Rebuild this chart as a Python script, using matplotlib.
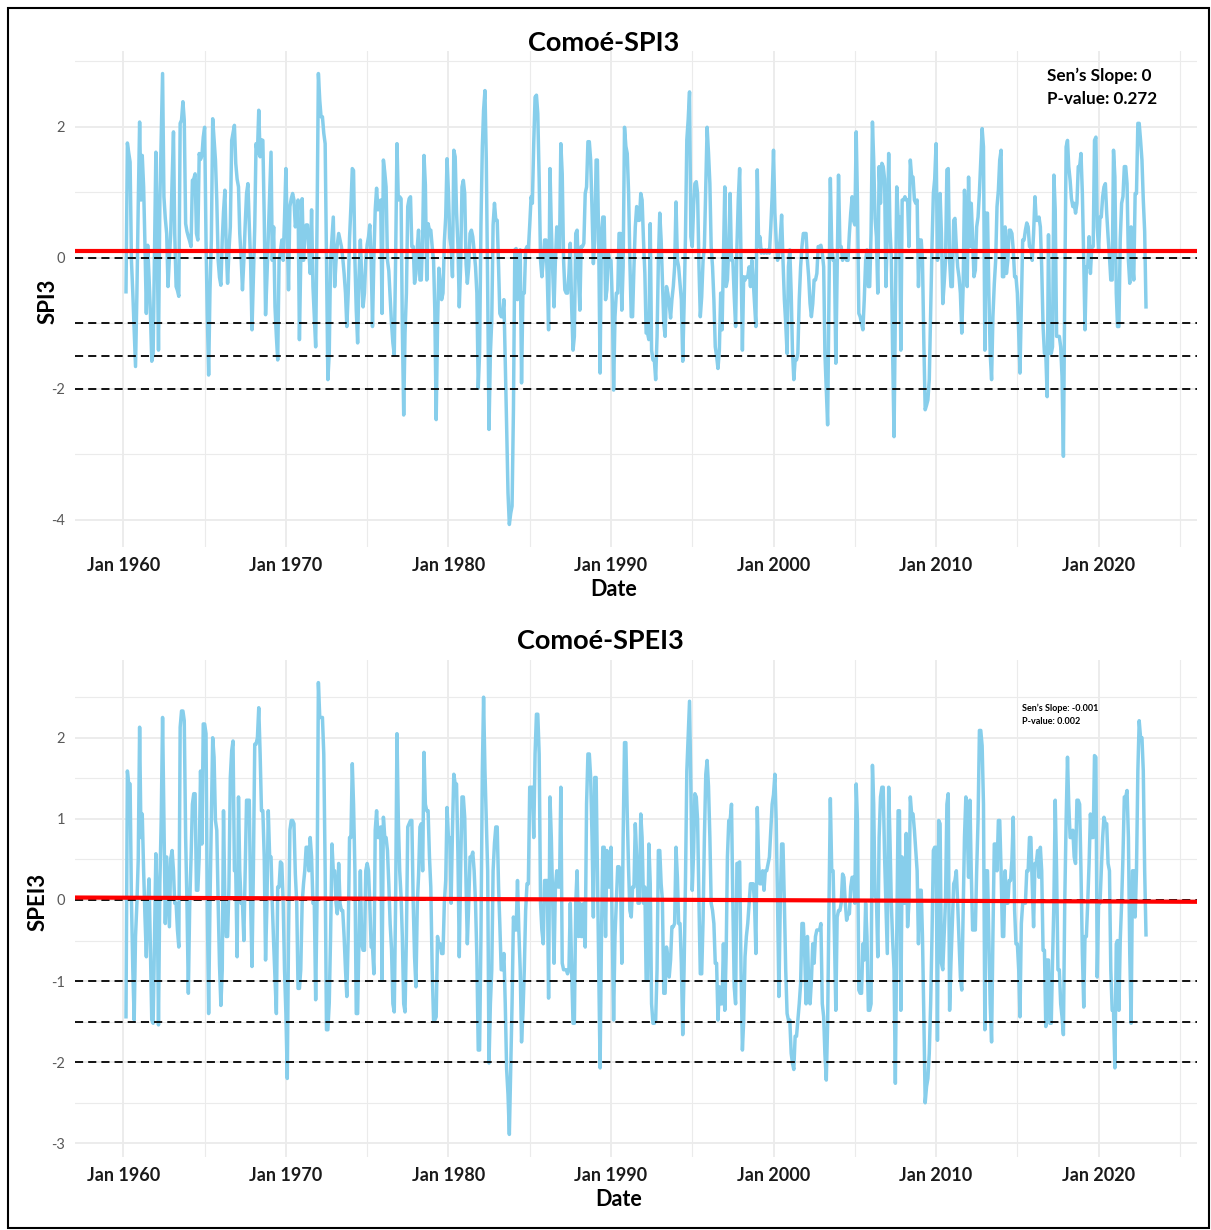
import numpy as np
import pandas as pd
import matplotlib
matplotlib.use("Agg")
import matplotlib.pyplot as plt
import matplotlib.dates as mdates
from matplotlib.ticker import MultipleLocator
from matplotlib.patches import Rectangle

nan = np.nan

# Monthly SPI3 for the Comoé basin (Jan..Dec each year)
spi3_1960s = [
    nan, nan, -0.52, 1.75, 1.60, 1.46, -0.04, -0.54, -1.10, -1.66, -0.54, 0.80,
    2.07, 0.88, 1.56, 1.08, 0.20, -0.85, 0.19, -0.30, -0.85, -1.58, -1.46, 0.10,
    1.61, 0.17, -1.41, 0.88, 1.80, 2.81, 0.93, 0.60, 0.37, -0.44, 0.00, 0.37,
    1.18, 1.92, 0.37, -0.44, -0.50, -0.59, 2.05, 2.10, 2.38, 2.10, 0.52, 0.40,
    0.32, 0.25, 0.17, 1.18, 1.20, 1.28, 0.37, 0.27, 1.59, 1.50, 1.56, 1.84,
    1.99, 0.27, -0.85, -1.79, -0.50, 0.27, 2.12, 1.80, 1.49, 0.88, -0.04, -0.30,
    -0.42, 0.27, 0.70, 1.03, 0.17, -0.39, 0.10, 0.47, 1.79, 1.90, 2.02, 1.44,
    1.20, 1.08, 0.37, 0.00, -0.49, -0.04, 0.50, 0.98, 1.13, 0.50, -0.09, -1.10,
    -0.30, 0.47, 1.74, 1.59, 2.25, 1.54, 1.80, 1.79, 0.62, -0.87, -0.30, 0.32,
    1.00, 1.61, -0.04, 0.47, -0.75, -1.20, -1.56, -0.04, 0.10, 0.27, -0.04, 0.60,
]
spi3_1970s = [
    1.36, 0.37, -0.49, 0.78, 0.90, 0.98, 0.88, 0.47, 0.60, 0.88, -1.25, -0.04,
    0.90, -0.04, 0.30, 0.50, 0.50, 0.10, -0.24, 0.73, -0.44, -0.90, -1.36, 0.47,
    2.81, 2.40, 2.15, 2.15, 1.90, 1.74, -0.04, -1.86, -1.46, -0.04, 0.30, 0.62,
    -0.44, -0.04, 0.20, 0.37, 0.27, 0.17, 0.00, -0.24, -0.54, -1.05, -0.54, 0.30,
    0.78, 1.36, 1.33, -0.04, -0.80, -1.30, -0.29, 0.27, -0.30, -0.75, -0.54, -0.04,
    0.20, 0.32, 0.50, -0.04, -1.05, 0.00, 0.73, 1.06, 0.73, 0.80, 0.88, -0.85,
    1.49, 1.30, 1.08, -0.04, -0.20, -0.60, -1.00, -1.30, -1.48, -0.04, 1.74, 0.88,
    0.93, 0.90, -1.05, -2.40, -1.15, -0.54, 0.78, 0.90, 0.93, 0.17, 0.17, -0.39,
    -0.24, 0.17, 0.42, -0.34, -0.34, 0.32, 1.56, 1.11, -0.34, 0.52, 0.42, 0.42,
    0.17, -0.04, -0.80, -2.47, -1.05, -0.16, -0.40, -0.64, -0.54, 0.24, 0.62, 1.51,
]
spi3_1980s = [
    1.00, 0.30, 0.17, -0.29, 1.64, 1.54, 0.70, 0.20, -0.75, -0.14, 1.08, 1.18,
    0.98, -0.10, -0.39, -0.14, 0.37, 0.42, 0.32, 0.10, -0.14, -0.54, -1.99, -1.46,
    0.50, 1.69, 2.25, 2.55, 1.49, -0.49, -2.62, -1.46, -0.95, 0.50, 0.83, 0.57,
    0.57, -0.14, -0.85, -0.90, -0.90, -0.64, -1.56, -2.57, -3.59, -4.07, -3.90, -3.79,
    -2.32, 0.12, 0.14, -0.64, -0.54, 0.12, -1.91, -0.54, -0.54, 0.12, 0.17, 0.12,
    0.50, 0.93, 0.83, 1.74, 2.45, 2.48, 2.20, 1.20, -0.04, -0.29, -0.04, 0.27,
    0.27, -0.34, -1.10, 1.36, 0.47, -0.20, -0.75, -0.04, 0.47, 0.12, 0.12, 1.74,
    1.28, -0.04, -0.49, -0.54, -0.54, -0.24, 0.22, -0.75, -1.41, -1.20, 0.37, 0.42,
    -0.24, -0.80, 0.17, 0.17, 0.22, 0.98, 1.08, 1.77, 1.77, 1.49, 0.73, -0.09,
    0.27, 1.49, 1.49, 0.17, -1.76, 0.37, 0.62, 0.62, -0.64, -0.49, 0.07, -0.04,
]
spi3_1990s = [
    -0.04, -0.70, -2.02, -0.90, -0.54, -0.54, 0.37, 0.37, -0.80, -0.14, 1.99, 1.70,
    1.59, 0.98, -0.04, -0.90, -0.90, -0.14, 0.47, 0.78, 0.57, 0.57, 0.98, 0.88,
    0.27, -0.24, -1.15, -1.15, -1.25, 0.52, -1.41, -1.56, -1.56, -1.86, -1.20, -0.04,
    0.68, 0.27, -0.34, -1.00, -1.20, -0.44, -0.54, -0.70, -0.92, -0.64, -0.44, -0.14,
    0.85, -0.04, -0.14, -0.40, -0.64, -1.58, -0.75, 0.30, 1.80, 2.10, 2.53, 0.32,
    0.17, 0.80, 1.13, 1.16, 0.98, -0.14, -0.90, -0.60, -0.04, 0.17, 1.13, 1.99,
    1.60, 1.13, 0.17, -0.14, -0.64, -1.36, -1.50, -1.69, -1.41, -0.54, -1.10, 0.00,
    1.08, -0.44, -0.34, 0.17, 0.98, -0.04, -0.04, -0.59, -1.05, 0.17, 0.90, 1.36,
    -0.04, -1.41, -0.29, -0.34, -0.29, -0.29, -0.14, -0.44, -0.04, -0.34, -0.70, -1.05,
    1.34, 0.17, 0.32, 0.07, 0.12, 0.07, 0.12, 0.07, 0.12, 0.07, 0.47, 0.93,
]
spi3_2000s = [
    1.64, 0.68, 0.27, -0.04, 0.07, 0.30, 0.65, -0.04, -0.64, -1.00, -1.46, -0.14,
    0.12, -0.54, -1.40, -1.86, -1.56, -1.56, -1.46, -0.64, -0.14, 0.17, 0.37, 0.37,
    0.37, -0.04, -0.29, -0.70, -0.90, -0.70, -0.34, -0.34, -0.24, 0.17, 0.17, 0.19,
    0.07, -0.14, -1.46, -2.00, -2.55, -0.54, 1.21, 0.17, -0.04, -0.04, -1.61, -0.14,
    1.26, 0.17, 0.17, -0.04, 0.07, 0.07, -0.04, -0.04, 0.37, 0.68, 0.93, 0.57,
    0.50, 1.92, 0.88, -0.85, -0.90, -1.00, -1.10, -0.64, -0.04, 0.12, -0.44, -0.44,
    0.37, 2.07, 1.49, 0.60, 0.32, -0.54, 1.39, 0.83, 1.44, 1.39, 1.20, -0.44,
    0.37, 1.59, 0.47, 0.00, -1.46, -2.73, -0.85, 1.08, 0.62, 0.62, -1.41, 0.88,
    0.88, 0.93, 0.88, 0.88, 0.17, 1.49, 1.23, 1.23, 0.88, 0.83, 0.88, -0.44,
    0.27, 0.27, -0.04, -1.30, -2.32, -2.25, -2.17, -1.86, -0.85, 0.17, 0.98, 1.20,
]
spi3_2010s = [
    1.74, -0.04, 0.30, 0.98, 0.37, -0.70, -0.40, -0.04, 1.34, 1.36, -0.04, -0.44,
    -0.44, 0.57, 0.60, 0.17, -0.14, -0.30, -0.54, -1.15, -0.44, 1.03, 0.50, -0.44,
    1.23, 0.17, 0.83, 0.30, -0.29, -0.19, 0.47, 0.62, 1.00, 1.49, 1.97, 1.69,
    -1.41, 0.68, 0.68, -0.54, -1.46, -1.86, -0.90, -0.40, -0.04, 0.78, 1.03, 1.49,
    1.64, -0.29, -0.29, 0.47, -0.24, -0.04, 0.42, 0.42, 0.37, 0.12, -0.29, -0.29,
    -0.54, -1.15, -1.76, -0.75, 0.27, 0.27, 0.42, 0.53, 0.47, 0.17, 0.17, -0.04,
    0.37, 0.93, 0.57, 0.57, 0.62, 0.47, -0.14, -1.05, -1.46, -1.46, -2.12, 0.35,
    -1.46, -1.46, -1.36, 1.26, 0.73, -1.20, -1.20, -1.20, -1.36, -1.81, -3.03, -0.54,
    1.69, 1.79, 1.39, 1.18, 0.90, 0.78, 0.83, 0.68, 0.83, 1.39, 1.39, 1.59,
    0.98, -0.04, -1.10, -0.14, -0.14, 0.32, -0.24, 0.17, 0.17, 1.79, 1.84, 0.47,
]
spi3_2020s = [
    0.12, 0.62, 0.62, 0.93, 1.08, 1.13, 0.68, 0.32, 0.02, -0.34, -0.34, 1.64,
    1.23, -0.54, -1.05, -1.05, 0.27, 0.83, 0.93, 1.39, 1.39, 1.13, -0.04, -0.39,
    0.47, -0.09, -0.34, 0.98, 0.98, 2.05, 2.05, 1.79, 1.49, 0.88, 0.40, -0.75,
]

# Monthly SPEI3 for the Comoé basin (Jan..Dec each year)
spei3_1960s = [
    nan, nan, -1.44, 1.59, 1.43, 1.43, 0.00, -0.86, -1.48, -0.45, -0.04, 0.50,
    2.13, 0.77, 1.06, 0.36, -0.20, -0.70, -0.04, 0.26, -0.66, -1.48, -1.52, -0.50,
    0.57, -0.04, -1.54, 0.20, 0.98, 2.25, 0.98, -0.29, 0.53, 0.10, -0.33, 0.51,
    0.61, 0.36, -0.04, -0.04, -0.37, -0.58, 2.13, 2.33, 2.33, 2.21, 0.77, -0.04,
    -1.15, -0.04, 0.50, 1.18, 1.31, 1.31, 0.12, 0.12, 0.53, 1.59, 0.69, 2.17,
    2.17, 2.05, -0.04, -1.40, -0.04, 1.00, 2.00, 1.76, 0.98, 0.86, -0.04, -0.80,
    -1.30, -0.86, 1.10, -0.04, -0.45, -0.45, 0.16, 1.51, 1.84, 1.96, 0.36, 0.36,
    -0.70, 1.27, 0.36, -0.04, -0.04, -0.50, 0.36, 1.23, 1.23, 1.23, -0.04, -0.82,
    0.36, 1.92, 1.92, 2.00, 2.37, 1.80, 1.10, 1.10, 0.53, -0.74, -0.04, 1.10,
    0.53, 0.53, -0.04, -0.54, -0.95, -1.40, 0.16, 0.16, 0.47, 0.45, -0.04, -0.86,
]
spei3_1970s = [
    -1.40, -2.20, -0.45, 0.86, 0.98, 0.98, 0.94, 0.32, -0.04, -1.09, -1.09, -0.86,
    -0.04, 0.20, 0.36, 0.65, 0.65, 0.36, 0.77, 0.53, -0.04, -0.04, -1.23, -0.04,
    2.68, 2.25, 2.25, 2.25, 1.80, 0.36, -1.60, -1.60, -1.27, -0.45, 0.69, 0.36,
    0.36, -0.04, -0.17, 0.45, -0.04, -0.13, -0.13, -0.45, -0.86, -1.19, -0.45, 0.77,
    0.77, 1.68, 1.18, 0.36, -1.40, -1.40, -0.45, 0.36, -0.54, -0.62, -0.62, 0.36,
    0.45, 0.36, -0.04, -0.58, -0.58, -0.91, 0.86, 1.10, 0.77, 0.77, 0.90, -0.99,
    1.02, 0.77, 0.77, 0.61, 0.20, -0.30, -0.60, -1.28, -1.38, -0.04, 2.05, 1.00,
    0.36, 0.04, -0.45, -1.28, -1.38, -0.45, 0.90, 0.94, 0.98, 0.98, -0.04, -0.70,
    -1.07, -0.04, 0.30, 0.90, 0.94, 0.36, 1.82, 1.18, 1.10, 1.10, 0.53, 0.16,
    -0.86, -1.48, -1.48, -1.44, -0.45, -0.58, -0.54, -0.66, -0.66, -0.04, 0.24, 1.14,
]
spei3_1980s = [
    0.77, 0.77, -0.04, 0.86, 1.55, 1.43, 1.43, 0.57, -0.70, 0.36, 1.27, 1.27,
    1.02, 0.16, -0.54, -0.04, 0.53, 0.53, 0.59, 0.36, -0.04, -0.70, -1.85, -1.85,
    -0.45, 1.59, 2.50, 1.59, 1.00, 0.36, -2.01, -1.28, -0.86, 0.36, 0.70, 0.90,
    0.90, 0.16, -0.30, -0.86, -0.86, -0.66, -1.28, -2.09, -2.40, -2.89, -2.09, -1.28,
    -0.21, -0.37, -0.37, 0.24, -0.37, -0.86, -1.75, -1.40, -0.86, -0.13, 0.20, 0.20,
    1.39, 1.39, 1.39, 0.77, 1.80, 2.29, 2.29, 1.80, -0.04, -0.37, -0.54, 0.24,
    0.24, 0.24, -1.21, 1.27, 0.77, 0.00, -0.78, 0.16, 0.36, 0.16, 0.16, 1.39,
    -0.78, -0.86, -0.86, -0.86, -0.91, -0.86, -0.04, -0.86, -1.52, -1.52, -0.04, 0.36,
    -0.45, -0.04, -0.45, -0.45, -0.04, -0.58, 1.18, 1.80, 1.80, 1.51, 0.77, -0.21,
    1.51, 1.51, 0.36, -0.86, -2.07, -0.45, 0.65, 0.65, -0.45, 0.61, 0.16, 0.16,
]
spei3_1990s = [
    0.65, -0.45, -1.48, -0.45, -0.04, 0.41, 0.41, 0.36, -0.78, 0.77, 1.94, 1.94,
    1.06, 0.36, -0.13, -0.21, 0.16, 0.16, 0.94, 0.53, -0.04, -0.04, 1.06, 0.77,
    -0.04, 0.16, -0.99, -0.99, 0.69, 0.20, -1.28, -1.52, -1.52, -1.48, -0.86, 0.61,
    0.61, 0.20, 0.00, -1.15, -1.15, -0.58, -0.70, -0.95, -0.74, -0.33, -0.33, -0.29,
    0.65, 0.28, -0.29, -0.29, -0.78, -1.66, -0.86, 0.20, 1.59, 2.00, 2.45, 1.39,
    0.12, 0.60, 1.31, 1.27, 0.98, -0.04, -0.91, -0.91, -0.25, 0.77, 1.55, 1.72,
    1.40, 0.77, -0.04, -0.13, -0.29, -0.78, -0.78, -1.48, -1.07, -1.28, -1.28, -0.54,
    -1.36, -0.66, 0.53, 0.98, 0.98, 1.18, -0.04, -1.07, -1.28, 0.45, 0.45, 0.47,
    -0.86, -1.85, -1.50, -0.70, -0.45, -0.29, -0.04, 0.20, 0.20, 0.20, -0.04, -0.66,
    1.14, 0.45, 0.20, 0.20, 0.36, 0.12, 0.36, 0.36, 0.45, 0.53, 0.86, 1.18,
]
spei3_2000s = [
    1.30, 1.55, 0.98, -0.04, -1.19, -0.04, 0.69, 0.69, -0.04, -0.86, -1.40, -1.48,
    -1.48, -1.89, -2.01, -2.09, -1.68, -1.68, -1.48, -1.28, -1.03, -0.29, -0.29, -0.66,
    -1.28, -0.45, -1.03, -1.28, -1.00, -0.54, -0.78, -0.45, -0.37, -0.37, -0.37, -0.29,
    -1.28, -1.44, -1.90, -2.22, -1.52, -0.04, 1.25, 0.36, 0.36, -0.45, -1.36, -0.21,
    -0.13, -0.13, -0.04, 0.32, 0.28, -0.04, -0.25, -0.17, -0.17, 0.16, 0.28, 0.28,
    -0.04, 1.43, 0.98, -1.11, -1.15, -1.15, -0.54, -0.74, -0.04, -0.45, -1.36, -1.36,
    -1.28, 1.66, 1.18, 0.04, 0.04, -0.70, 0.77, 1.27, 1.39, 1.39, 0.53, -0.04,
    -0.66, 1.39, 0.77, -0.04, -0.50, -0.86, -2.26, -0.45, 1.10, 1.10, -1.36, 0.53,
    -0.04, -0.04, 0.82, -0.33, -0.04, 1.27, 1.06, 1.06, 0.86, 0.61, 0.36, -0.54,
    0.12, 0.12, -0.45, -1.44, -2.50, -2.30, -2.20, -1.89, -1.28, -0.45, 0.61, 0.65,
]
spei3_2010s = [
    0.65, -1.73, 0.98, 0.94, -0.78, -0.86, -0.45, 0.00, 1.18, 1.31, -1.36, -0.78,
    -0.30, 0.20, 0.24, 0.36, -0.04, -0.50, -0.95, -1.11, -0.13, 0.77, 1.27, 0.90,
    0.28, 1.23, 0.36, -0.37, -0.37, -0.37, 0.36, 0.98, 2.09, 2.09, 1.90, 1.18,
    -1.60, 0.36, 0.36, -0.45, -1.28, -1.75, -0.45, 0.69, 0.69, 0.36, 0.98, 0.98,
    0.36, -0.45, -0.45, 0.36, -0.04, -0.04, 0.24, 0.24, 0.49, 1.02, -0.13, -0.54,
    -0.54, -0.86, -1.44, -0.29, -0.04, -0.04, -0.04, 0.36, 0.36, 0.77, 0.77, 0.20,
    -0.33, 0.45, 0.45, 0.61, 0.28, 0.65, 0.36, -0.62, -0.62, -1.56, -0.74, -0.74,
    -1.52, -1.52, -0.78, -0.04, 1.23, 0.36, -0.86, -0.86, -1.28, -1.44, -1.66, -0.04,
    0.98, 1.76, 1.18, 0.77, 0.77, 0.86, 0.53, 0.45, 1.23, 1.23, 1.18, 0.36,
    -0.66, -1.32, -0.45, -0.45, -0.04, 0.45, 1.06, 0.77, 0.77, 1.78, 1.76, -0.95,
]
spei3_2020s = [
    -0.04, -0.04, 0.36, 0.77, 1.02, 0.94, 0.94, 0.45, 0.36, -0.86, -1.36, -1.36,
    -2.07, -0.54, -0.50, -1.36, -0.50, -0.04, 0.53, 1.27, 1.27, 1.35, 0.77, -0.66,
    -1.52, 0.36, 0.36, -0.21, 0.36, 1.59, 2.21, 2.00, 2.00, 1.59, 0.36, -0.43,
]

# Sen's slope trend line: value at the first and last month of the record
spi3_trend = (0.107, 0.107)
spei3_trend = (0.028, -0.020)
spi3_stats = ["Sen\u2019s Slope: 0", "P-value: 0.272"]
spei3_stats = ["Sen\u2019s Slope: -0.001", "P-value: 0.002"]
drought_levels = [0, -1, -1.5, -2]

plt.rcParams["font.family"] = ["Lato", "DejaVu Sans"]
plt.rcParams["axes.unicode_minus"] = False

W, H = 1211, 1230
fig = plt.figure(figsize=(W / 100, H / 100), dpi=100)


def fx(x):
    return x / W


def fy(y):
    return 1 - y / H


def draw_panel(box, values, trend, ystep):
    left, top, right, bottom = box
    ax = fig.add_axes([fx(left), fy(bottom), (right - left) / W, (bottom - top) / H])
    values = np.array(values, dtype=float)
    dates = pd.date_range("1960-01-01", periods=len(values), freq="MS")

    ax.plot(dates, values, color="#87CEEB", lw=2.5, zorder=2)
    for level in drought_levels:
        ax.axhline(level, color="black", lw=1.3, ls=(0, (4.5, 2.8)), zorder=3)

    ok = ~np.isnan(values)
    x0 = mdates.date2num(dates[ok][0])
    x1 = mdates.date2num(dates[ok][-1])
    ax.axline((x0, trend[0]), (x1, trend[1]), color="red", lw=3, zorder=4)

    ax.xaxis.set_major_locator(mdates.YearLocator(10))
    ax.xaxis.set_minor_locator(mdates.YearLocator(5))
    ax.xaxis.set_major_formatter(mdates.DateFormatter("%b %Y"))
    ax.yaxis.set_major_locator(MultipleLocator(ystep))
    ax.yaxis.set_minor_locator(MultipleLocator(ystep / 2))

    ax.grid(which="major", color="#ebebeb", lw=1.3)
    ax.grid(which="minor", color="#ebebeb", lw=0.8)
    ax.set_axisbelow(True)
    for s in ax.spines.values():
        s.set_visible(False)
    ax.tick_params(which="both", length=0)
    ax.tick_params(axis="x", pad=7, labelsize=13, labelcolor="#1a1a1a")
    ax.tick_params(axis="y", pad=7, labelsize=10.5, labelcolor="#595959")
    for lab in ax.get_xticklabels():
        lab.set_fontweight("bold")
    return ax


ax_top = draw_panel((75, 51, 1197, 547), spi3_1960s + spi3_1970s + spi3_1980s
                    + spi3_1990s + spi3_2000s + spi3_2010s + spi3_2020s, spi3_trend, 2)
ax_bot = draw_panel((75, 660, 1197, 1157), spei3_1960s + spei3_1970s + spei3_1980s
                    + spei3_1990s + spei3_2000s + spei3_2010s + spei3_2020s, spei3_trend, 1)

# titles, axis labels and trend statistics
fig.text(fx(604), fy(43), "Comoé-SPI3", ha="center", va="center", fontsize=19.5, fontweight="bold")
fig.text(fx(600), fy(641), "Comoé-SPEI3", ha="center", va="center", fontsize=19.5, fontweight="bold")
fig.text(fx(614), fy(589), "Date", ha="center", va="center", fontsize=15.5, fontweight="bold")
fig.text(fx(619), fy(1199), "Date", ha="center", va="center", fontsize=15.5, fontweight="bold")
fig.text(fx(48), fy(301), "SPI3", ha="center", va="center", rotation=90, fontsize=16, fontweight="bold")
fig.text(fx(38), fy(902), "SPEI3", ha="center", va="center", rotation=90, fontsize=16, fontweight="bold")

fig.text(fx(1047), fy(76), spi3_stats[0], ha="left", va="center", fontsize=12.3, fontweight="bold")
fig.text(fx(1047), fy(99), spi3_stats[1], ha="left", va="center", fontsize=12.3, fontweight="bold")
fig.text(fx(1022), fy(708), spei3_stats[0], ha="left", va="center", fontsize=6.5, fontweight="bold")
fig.text(fx(1022), fy(721), spei3_stats[1], ha="left", va="center", fontsize=6.5, fontweight="bold")

# outer frame
fig.patches.append(Rectangle((fx(8), fy(1228)), (1209 - 8) / W, (1228 - 8) / H,
                             transform=fig.transFigure, fill=False, ec="black", lw=1.5))

fig.savefig("out.png", dpi=100)
